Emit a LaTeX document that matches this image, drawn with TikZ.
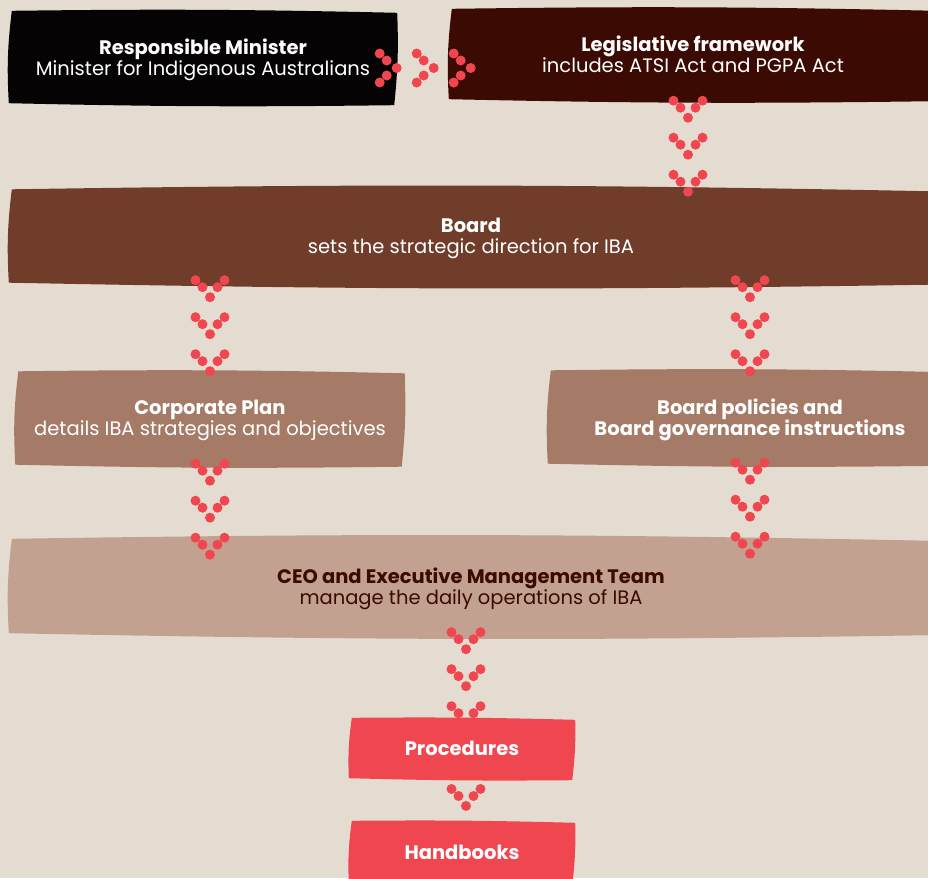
\documentclass[tikz,border=0pt]{standalone}
\usepackage{fontspec}
\setmainfont{Poppins}
\usetikzlibrary{decorations.markings,backgrounds}
\pgfdeclarelayer{boxes}
\pgfsetlayers{background,boxes,main}

\definecolor{pagebg}{HTML}{E5DCD1}
\definecolor{minblack}{HTML}{050303}
\definecolor{legbrown}{HTML}{3B0A02}
\definecolor{boardbrown}{HTML}{6F3D2A}
\definecolor{planbrown}{HTML}{A57B67}
\definecolor{ceobrown}{HTML}{C3A190}
\definecolor{procred}{HTML}{EF4650}
\definecolor{dotred}{HTML}{EF4650}

\newcommand\brush[2]{%
    \begin{pgfonlayer}{boxes}
    \fill[#2] ([shift={(3,1)}]#1.north west) to[bend left=1] ([shift={(0,3)}]#1.north east)
        to[bend left=4] ([shift={(-3,1)}]#1.south east) to[bend left=1] ([shift={(0,-1)}]#1.south west)
        to[bend left=5] cycle;
    \end{pgfonlayer}}

% one chevron of five dots, tip along the path
\newcommand\chevdots{%
    \foreach \u/\v in {-8.5/-14.5,-1.5/-7.5,8.5/0,-1.5/7.5,-8.5/14.5}
        \fill[dotred] (\u pt,\v pt) circle[radius=5pt];}

\tikzset{
    panel/.style={inner sep=0pt, align=center, text=white, text depth=0pt,
        font=\fontsize{19.5}{21}\selectfont},
    dotflow/.style={decorate, decoration={markings,
        mark=at position 9pt with {\chevdots},
        mark=at position 46pt with {\chevdots},
        mark=at position 83pt with {\chevdots}}},
    dotone/.style={decorate, decoration={markings,
        mark=at position 0.45 with {\chevdots}}}
}

\begin{document}
\begin{tikzpicture}[x=1pt, y=-1pt]
    \useasboundingbox (0,0) rectangle (928,878);
    \begin{pgfonlayer}{background}
        \fill[pagebg] (0,0) rectangle (928,878);
    \end{pgfonlayer}

    \node[panel, minimum width=388, minimum height=94] (minister) at (203,57)
        {\textbf{Responsible Minister}\\Minister for Indigenous Australians};
    \node[panel, minimum width=488, minimum height=92] (leg) at (693,54)
        {\textbf{Legislative framework}\\includes ATSI Act and PGPA Act};
    \node[panel, minimum width=924, minimum height=95] (board) at (471,236)
        {\textbf{Board}\\sets the strategic direction for IBA};
    \node[panel, minimum width=389, minimum height=95] (plan) at (210,418)
        {\textbf{Corporate Plan}\\details IBA strategies and objectives};
    \node[panel, minimum width=404, minimum height=95] (policies) at (750,417)
        {\textbf{Board policies and}\\\textbf{Board governance instructions}};
    \node[panel, text=legbrown, minimum width=924, minimum height=96] (ceo) at (471,586)
        {\textbf{CEO and Executive Management Team}\\manage the daily operations of IBA};
    \node[panel, minimum width=226, minimum height=62] (proc) at (462,748)
        {\textbf{Procedures}};
    \node[panel, minimum width=226, minimum height=64] (hand) at (462,852)
        {\textbf{Handbooks}};

    \brush{minister}{minblack}
    \brush{leg}{legbrown}
    \brush{board}{boardbrown}
    \brush{plan}{planbrown}
    \brush{policies}{planbrown}
    \brush{ceo}{ceobrown}
    \brush{proc}{procred}
    \brush{hand}{procred}

    \path[dotflow] ([xshift=-18pt,yshift=-11pt]minister.east) -- ([xshift=20pt,yshift=-11pt]leg.west |- minister.east);
    \path[dotflow] ([xshift=-5pt]leg.south) -- ([xshift=-5pt]leg.south |- board.north);
    \path[dotflow] ([yshift=4pt]plan.north |- board.south) -- (plan.north);
    \path[dotflow] ([yshift=4pt]policies.north |- board.south) -- (policies.north);
    \path[dotflow] ([yshift=2.5pt]plan.south) -- ([yshift=-20pt]plan.south |- ceo.north);
    \path[dotflow] ([yshift=2.5pt]policies.south) -- ([yshift=-20pt]policies.south |- ceo.north);
    \path[dotflow] ([xshift=4pt,yshift=2.5pt]proc.north |- ceo.south) -- ([xshift=4pt]proc.north);
    \path[dotone] ([xshift=4pt]proc.south) -- ([xshift=4pt]hand.north);
\end{tikzpicture}
\end{document}
